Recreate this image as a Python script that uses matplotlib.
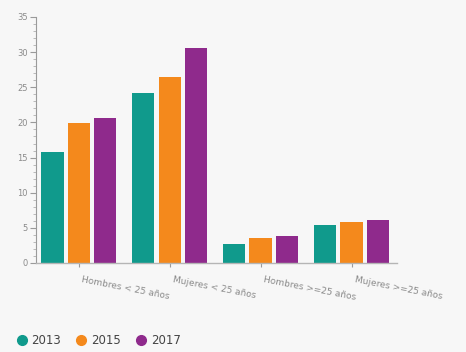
import matplotlib
matplotlib.use("Agg")
import matplotlib.pyplot as plt
import numpy as np
from matplotlib.ticker import MultipleLocator
from matplotlib.lines import Line2D
import matplotlib.transforms as mtrans

categories = ["Hombres < 25 años", "Mujeres < 25 años", "Hombres >=25 años", "Mujeres >=25 años"]
years = ["2013", "2015", "2017"]
v2013 = [15.8, 24.2, 2.7, 5.4]
v2015 = [19.9, 26.4, 3.6, 5.8]
v2017 = [20.6, 30.6, 3.9, 6.1]
colors = ["#109a8c", "#f4891c", "#8f2a8c"]

bg = "#f7f7f7"
fig = plt.figure(figsize=(4.66, 3.52), dpi=100, facecolor=bg)
ax = fig.add_axes([36/466, 89/352, (397-36)/466, (263-17)/352], facecolor=bg)

x = np.arange(len(categories))
w = 0.245
off = 0.29
for i, (vals, c) in enumerate(zip([v2013, v2015, v2017], colors)):
    ax.bar(x + (i - 1) * off, vals, width=w, color=c, zorder=2)

ax.set_xlim(-0.47, 3.5)
ax.set_ylim(0, 35)
ax.yaxis.set_major_locator(MultipleLocator(5))
ax.yaxis.set_minor_locator(MultipleLocator(1))
for s in ["top", "right"]:
    ax.spines[s].set_visible(False)
ax.spines["left"].set_color("#9a9a9a")
ax.spines["bottom"].set_color("#b5b5b5")
ax.spines["left"].set_linewidth(0.8)
ax.spines["bottom"].set_linewidth(1.0)
ax.tick_params(axis="y", which="major", length=4, color="#9a9a9a", labelsize=6, labelcolor="#8a8a8a", pad=2)
ax.tick_params(axis="y", which="minor", length=2, color="#b0b0b0")
ax.tick_params(axis="x", length=3, color="#9a9a9a", labelsize=6.5, labelcolor="#8a8a8a", pad=6)
ax.set_xticks(x)
ax.set_xticklabels(categories, rotation=-11, ha="left", va="top", rotation_mode="anchor")
shift = mtrans.ScaledTranslation(4/100, 0, fig.dpi_scale_trans)
for lbl in ax.get_xticklabels():
    lbl.set_transform(lbl.get_transform() + shift)

handles = [Line2D([0], [0], marker="o", linestyle="", markersize=7, markerfacecolor=c,
                  markeredgecolor=c) for c in colors]
fig.legend(handles, years, loc="lower left", bbox_to_anchor=(0.016, 0.0), ncol=3, frameon=False,
           fontsize=8.5, handletextpad=0.05, columnspacing=1.0, labelcolor="#444444",
           borderaxespad=0.05, handlelength=1.5)

fig.savefig("out.png", dpi=100, facecolor=bg)
